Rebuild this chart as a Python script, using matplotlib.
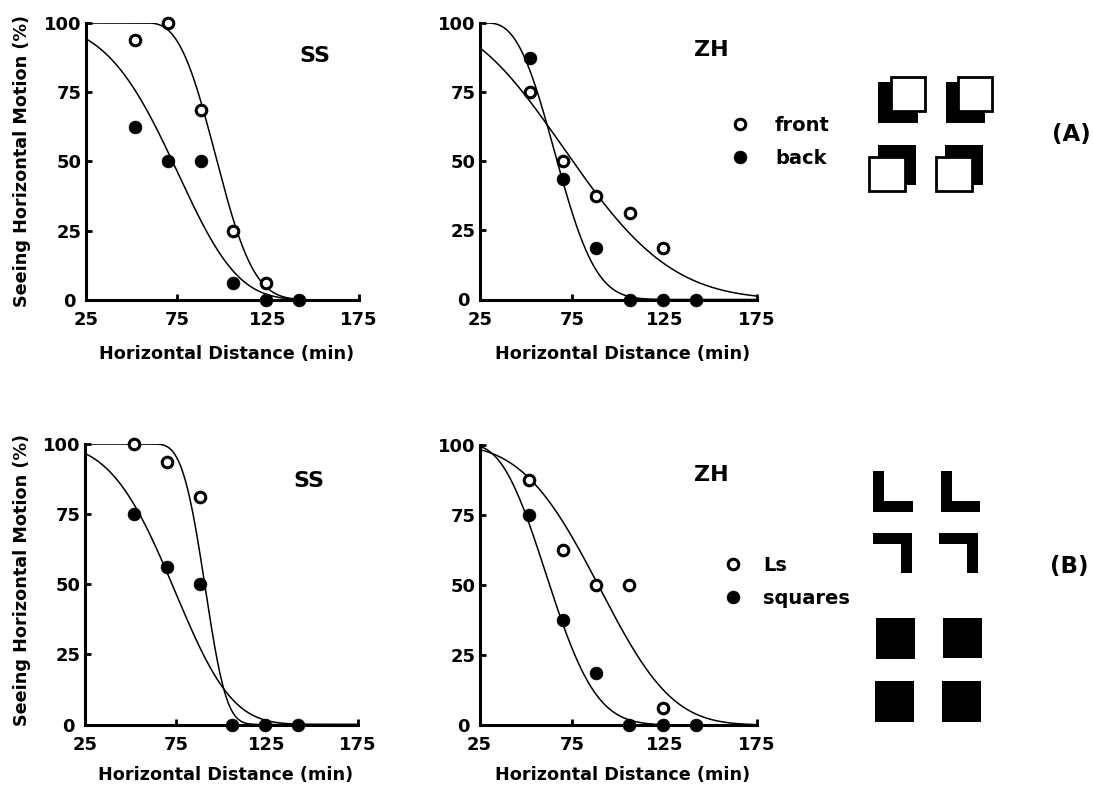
import numpy as np
import matplotlib
matplotlib.use("Agg")
import matplotlib.pyplot as plt
from matplotlib.patches import Rectangle
import matplotlib.transforms as mtransforms

plt.rcParams['font.family'] = ['DejaVu Sans']
plt.rcParams['font.weight'] = 'bold'

W, H = 1093, 788

# ---------------- data ----------------
distance = [52, 70, 88, 106, 124, 142]
x_ticks = [25, 75, 125, 175]
y_ticks = [0, 25, 50, 75, 100]

a_ss_front = [93.75, 100, 68.75, 25, 6.25, np.nan]
a_ss_back = [62.5, 50, 50, 6.25, 0, 0]
a_zh_front = [75, 50, 37.5, 31.25, 18.75, np.nan]
a_zh_back = [87.5, 43.75, 18.75, 0, 0, 0]
b_ss_ls = [100, 93.75, 81.25, np.nan, np.nan, np.nan]
b_ss_squares = [75, 56.25, 50, 0, 0, 0]
b_zh_ls = [87.5, 62.5, 50, 50, 6.25, np.nan]
b_zh_squares = [75, 37.5, 18.75, 0, 0, 0]

# fitted psychometric curves (shifted Weibull survival): [x0, lambda, k]
fit_a_ss_front = [57.75, 44.69, 2.84]
fit_a_ss_back = [-43.5, 125.48, 4.68]
fit_a_zh_front = [-16.5, 106.21, 2.51]
fit_a_zh_back = [28.25, 44.18, 2.69]
fit_b_ss_ls = [61.0, 32.94, 3.63]
fit_b_ss_squares = [-17.5, 99.02, 3.99]
fit_b_zh_ls = [-10.25, 109.98, 3.62]
fit_b_zh_squares = [18.5, 51.15, 2.59]

legend_a = ['front', 'back']
legend_b = ['Ls', 'squares']


def surv(x, x0, lam, k):
    u = np.clip(np.asarray(x, float) - x0, 0, None)
    return 100.0 * np.exp(-(u / lam) ** k)


# ---------------- figure ----------------
fig = plt.figure(figsize=(W / 100, H / 100), dpi=100)
fig.patch.set_facecolor('white')


def rect(l, r, t, b):
    return [l / W, 1 - b / H, (r - l) / W, (b - t) / H]


panels = [
    (rect(86, 359, 23, 300), 'SS', (315, 56), a_ss_front, a_ss_back, fit_a_ss_front, fit_a_ss_back, True),
    (rect(480, 757, 23, 299.5), 'ZH', (711, 50), a_zh_front, a_zh_back, fit_a_zh_front, fit_a_zh_back, False),
    (rect(85, 358, 444, 724.5), 'SS', (309, 481), b_ss_ls, b_ss_squares, fit_b_ss_ls, fit_b_ss_squares, True),
    (rect(479.5, 757, 445, 725), 'ZH', (711, 475), b_zh_ls, b_zh_squares, fit_b_zh_ls, fit_b_zh_squares, False),
]

xx = np.linspace(25, 175, 600)
handles = []
for pos, title, tpos, open_vals, fill_vals, fit_o, fit_f, left in panels:
    ax = fig.add_axes(pos)
    ax.set_xlim(25, 175)
    ax.set_ylim(0, 100)
    for s in ['top', 'right']:
        ax.spines[s].set_visible(False)
    for s in ['left', 'bottom']:
        ax.spines[s].set_linewidth(2.2)
    ax.set_xticks(x_ticks)
    ax.set_yticks(y_ticks)
    ax.tick_params(direction='in', length=4.5, width=2.0, labelsize=13)
    ax.tick_params(axis='x', pad=8)
    ax.tick_params(axis='y', pad=3)
    for lab in ax.get_xticklabels() + ax.get_yticklabels():
        lab.set_fontweight('bold')
    # the "0" label sits a little further left in the reference
    ylabs = ax.get_yticklabels()
    ylabs[0].set_transform(ylabs[0].get_transform()
                           + mtransforms.ScaledTranslation(-6 / 100, 0, fig.dpi_scale_trans))

    ax.plot(xx, surv(xx, *fit_o), color='black', lw=1.1, zorder=2)
    ax.plot(xx, surv(xx, *fit_f), color='black', lw=1.1, zorder=2)

    h_o, = ax.plot(distance, open_vals, linestyle='none', marker='o', ms=7.6, mew=2.2,
                   mfc='white', mec='black', clip_on=False, zorder=4)
    h_f, = ax.plot(distance, fill_vals, linestyle='none', marker='o', ms=9.2, mew=0.5,
                   mfc='black', mec='black', clip_on=False, zorder=5)
    handles.append((h_o, h_f))

    ax.set_xlabel('Horizontal Distance (min)', fontsize=12.7, fontweight='bold', va='center')
    l, b, w, h = pos
    ax.xaxis.set_label_coords(0.515, ((1 - (354 if b > 0.5 else 775) / H) - b) / h)
    if left:
        ax.set_ylabel('Seeing Horizontal Motion (%)', fontsize=12.7, fontweight='bold', va='center')
        ax.yaxis.set_label_coords((22 / W - l) / w, 0.5 if b > 0.5 else 0.515)
    fig.text(tpos[0] / W, 1 - tpos[1] / H, title, fontsize=16, fontweight='bold',
             ha='center', va='center')

fig.legend(handles=list(handles[1]), labels=legend_a, loc='center left',
           bbox_to_anchor=(730.3 / W, 1 - 142 / H), frameon=False, fontsize=14,
           handlelength=1.0, handletextpad=1.3, labelspacing=0.7, borderpad=0,
           borderaxespad=0, numpoints=1)
fig.legend(handles=list(handles[3]), labels=legend_b, loc='center left',
           bbox_to_anchor=(723.3 / W, 1 - 582 / H), frameon=False, fontsize=14,
           handlelength=1.0, handletextpad=1.04, labelspacing=0.7, borderpad=0,
           borderaxespad=0, numpoints=1)

# ---------------- stimulus icons ----------------
iax = fig.add_axes([0, 0, 1, 1], zorder=-1)
iax.set_xlim(0, W)
iax.set_ylim(H, 0)
iax.axis('off')
black_sq_a = [(878, 82, 40, 41), (946, 82, 39, 41), (878, 145, 38, 40), (945, 145, 38, 40)]
white_sq_a = [(891, 77, 34, 34), (958, 77, 34, 34), (869, 157, 36, 34), (936, 157, 36, 34)]
for (x, y, w, h) in black_sq_a:
    iax.add_patch(Rectangle((x, y), w, h, facecolor='black', edgecolor='none'))
for (x, y, w, h) in white_sq_a:
    iax.add_patch(Rectangle((x, y), w, h, facecolor='white', edgecolor='black', lw=2.0))
bars_b = [(873, 471, 11, 41), (873, 501, 40, 11), (941, 471, 11, 41), (941, 501, 39, 11),
          (873, 533, 39, 11), (901, 533, 11, 40), (939, 533, 39, 11), (967, 533, 11, 40),
          (876, 618, 39, 41), (943, 618, 39, 40), (875, 681, 39, 41), (942, 681, 39, 41)]
for (x, y, w, h) in bars_b:
    iax.add_patch(Rectangle((x, y), w, h, facecolor='black', edgecolor='none'))
fig.text(1071 / W, 1 - 135 / H, '(A)', fontsize=16.5, fontweight='bold', ha='center', va='center')
fig.text(1069 / W, 1 - 567 / H, '(B)', fontsize=16.5, fontweight='bold', ha='center', va='center')

fig.savefig('out.png', dpi=100)
